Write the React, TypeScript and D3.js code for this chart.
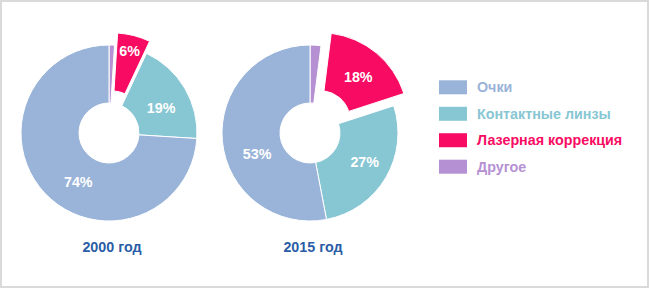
import React from "react";
import * as d3 from "d3";

const categories = ["Очки", "Контактные линзы", "Лазерная коррекция", "Другое"];
const values2000 = [74, 19, 6, 1];
const values2015 = [53, 27, 18, 2];
const yearLabels = ["2000 год", "2015 год"];
const colors = ["#9AB3D9", "#87C6D3", "#F80B62", "#B590D3"];

const W = 649;
const H = 288;
const OUTER = 88;
const INNER = 30;
const EXPLODED = 2; // index of exploded category
const FS = 14.3;

const charts = [
  { values: values2000, title: yearLabels[0], cx: 109, cy: 133, explode: 12.5,
    labelPos: { 0: [212, 58], 1: [64, 58], 2: [14, 72] } as Record<number, [number, number]> },
  { values: values2015, title: yearLabels[1], cx: 310, cy: 133, explode: 16,
    labelPos: { 0: [248, 57], 1: [118, 62], 2: [41, 58] } as Record<number, [number, number]> },
];

const FONT = "'Liberation Sans', Arial, sans-serif";

function Donut({ chart }: { chart: typeof charts[number] }) {
  const order = [3, 2, 1, 0];
  const pie = d3
    .pie<number>()
    .sort(null)
    .value((i) => chart.values[i])
    .startAngle(0)
    .endAngle(2 * Math.PI);
  const arcs = pie(order);
  const arc = d3.arc<d3.PieArcDatum<number>>().innerRadius(INNER).outerRadius(OUTER);
  const toRad = (deg: number) => (deg * Math.PI) / 180;
  return (
    <g>
      {arcs.map((a) => {
        const i = a.data;
        const mid = (a.startAngle + a.endAngle) / 2;
        const off = i === EXPLODED ? chart.explode : 0;
        const dx = Math.sin(mid) * off;
        const dy = -Math.cos(mid) * off;
        return (
          <path
            key={i}
            d={arc(a) || ""}
            transform={`translate(${chart.cx + dx},${chart.cy + dy})`}
            fill={colors[i]}
            stroke="#fff"
            strokeWidth={1}
          />
        );
      })}
      {arcs.map((a) => {
        const i = a.data;
        const lp = chart.labelPos[i];
        if (!lp) return null;
        const mid = (a.startAngle + a.endAngle) / 2;
        const off = i === EXPLODED ? chart.explode : 0;
        const ang = toRad(lp[0]);
        const x = chart.cx + Math.sin(mid) * off + Math.sin(ang) * lp[1];
        const y = chart.cy - Math.cos(mid) * off - Math.cos(ang) * lp[1];
        return (
          <text
            key={"l" + i}
            x={x}
            y={y}
            textAnchor="middle"
            dominantBaseline="central"
            fill="#fff"
            fontFamily={FONT}
            fontWeight="bold"
            fontSize={FS}
          >
            {chart.values[i]}%
          </text>
        );
      })}
      <text
        x={chart.cx + 3}
        y={247}
        textAnchor="middle"
        dominantBaseline="central"
        fill="#2B5DA6"
        fontFamily={FONT}
        fontWeight="bold"
        fontSize={FS}
      >
        {chart.title}
      </text>
    </g>
  );
}

export default function App() {
  const legendY = d3.scaleLinear().domain([0, 3]).range([87.3, 166.7]);
  return (
    <svg
      width={W}
      height={H}
      style={{ position: "absolute", left: 0, top: 0, background: "#fff" }}
    >
      <rect x={1} y={1} width={W - 2} height={H - 2} fill="#fff" stroke="#DADADA" strokeWidth={2} />
      {charts.map((c, k) => (
        <Donut key={k} chart={c} />
      ))}
      {categories.map((c, i) => (
        <g key={c}>
          <rect x={439} y={legendY(i) - 7} width={28} height={14} fill={colors[i]} />
          <text
            x={477}
            y={legendY(i)}
            dominantBaseline="central"
            fill={colors[i]}
            fontFamily={FONT}
            fontWeight="bold"
            fontSize={FS}
          >
            {c}
          </text>
        </g>
      ))}
    </svg>
  );
}
